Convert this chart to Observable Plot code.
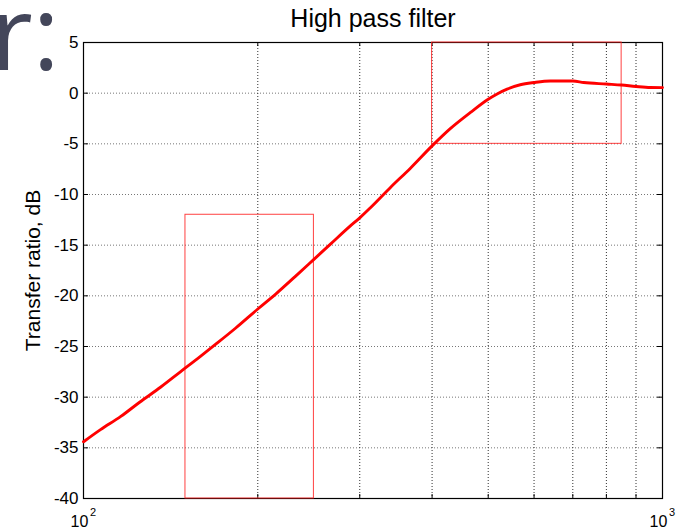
<!DOCTYPE html>
<html>
<head>
<meta charset="utf-8">
<script src="https://cdn.jsdelivr.net/npm/d3@7"></script>
<script src="https://cdn.jsdelivr.net/npm/@observablehq/plot@0.6"></script>
<style>
  html, body { margin: 0; padding: 0; background: #fff; overflow: hidden; }
  #chart { position: relative; width: 682px; height: 532px; }
</style>
</head>
<body>
<div id="chart"></div>
<script>
// Measured transfer ratio of the high pass filter (frequency in Hz, ratio in dB)
const freq = [100, 107, 116, 125, 136, 147, 159, 169, 183, 200, 215, 232, 250, 267, 289, 300, 313, 339, 367, 400, 430, 466, 500, 519, 539, 568, 600, 640, 700, 731, 800, 850, 900, 953, 1000];
const gain = [-34.4, -33.2, -31.9, -30.5, -29.0, -27.5, -26.0, -24.8, -23.2, -21.3, -19.8, -18.1, -16.4, -14.9, -13.1, -12.3, -11.3, -9.3, -7.4, -5.2, -3.5, -1.9, -0.6, -0.05, 0.4, 0.83, 1.05, 1.2, 1.2, 1.05, 0.9, 0.8, 0.66, 0.56, 0.55];

// Specification boxes: stopband limit and passband window
const stopF1 = [150], stopF2 = [250], stopLo = [-40], stopHi = [-12];
const passF1 = [400], passF2 = [850], passLo = [-5], passHi = [5];

// Axis ticks
const yTicks = [-40, -35, -30, -25, -20, -15, -10, -5, 0, 5];
const xMinor = [200, 300, 400, 500, 600, 700, 800, 900];
const xDecades = [100, 1000];
const xExponents = ["2", "3"];

const curve = freq.map((f, i) => ({f, g: gain[i]}));
const boxes = [
  {x1: stopF1[0], x2: stopF2[0], y1: stopLo[0], y2: stopHi[0]},
  {x1: passF1[0], x2: passF2[0], y1: passLo[0], y2: passHi[0]}
];
const decades = xDecades.map((f, i) => ({f, e: xExponents[i]}));

const W = 682, H = 532;
const mL = 83, mR = 20, mT = 42, mB = 34;
const fw = W - mL - mR, fh = H - mT - mB;

const chart = Plot.plot({
  width: W,
  height: H,
  marginLeft: mL,
  marginRight: mR,
  marginTop: mT,
  marginBottom: mB,
  style: {fontFamily: "'Liberation Sans', Arial, sans-serif", background: "#fff", color: "#000", overflow: "visible"},
  x: {type: "log", domain: [100, 1000], axis: null},
  y: {domain: [-40, 5], axis: null},
  marks: [
    // dotted grid
    Plot.ruleY(yTicks.slice(1, -1), {stroke: "#777", strokeDasharray: "1,2"}),
    Plot.ruleX(xMinor, {stroke: "#303030", strokeDasharray: "1,2"}),
    Plot.frame({stroke: "#000", strokeWidth: 1.2}),
    // inward ticks
    Plot.tickY(yTicks, {y: d => d, stroke: "#000", insetRight: fw - 5}),
    Plot.tickY(yTicks, {y: d => d, stroke: "#000", insetLeft: fw - 5}),
    Plot.tickX(xMinor, {x: d => d, stroke: "#000", insetTop: fh - 4}),
    Plot.tickX(xMinor, {x: d => d, stroke: "#000", insetBottom: fh - 4}),
    Plot.axisY(yTicks, {tickSize: 0, tickPadding: 5, fontSize: 17, tickFormat: d => String(d), label: null}),
    // decade labels 10^2, 10^3
    Plot.text(decades, {x: "f", text: () => "10", frameAnchor: "bottom", lineAnchor: "middle", dy: 23, dx: -4, fontSize: 16}),
    Plot.text(decades, {x: "f", text: "e", frameAnchor: "bottom", lineAnchor: "middle", dy: 14, dx: 9.5, fontSize: 11}),
    // specification boxes
    Plot.rect(boxes, {x1: "x1", x2: "x2", y1: "y1", y2: "y2", fill: "none", stroke: "#ff2020", strokeWidth: 1, strokeOpacity: 0.85}),
    // response curve
    Plot.line(curve, {x: "f", y: "g", stroke: "#ff0000", strokeWidth: 2.9, curve: "monotone-x"}),
    // title and axis label
    Plot.text(["High pass filter"], {frameAnchor: "top", lineAnchor: "middle", textAnchor: "middle", dy: -24, fontSize: 25}),
    Plot.text(["Transfer ratio, dB"], {frameAnchor: "left", lineAnchor: "middle", textAnchor: "middle", dx: -50, rotate: -90, fontSize: 21})
  ]
});

document.getElementById("chart").appendChild(chart);

// slide heading fragment in the corner
d3.select(chart).append("text")
  .attr("x", -9)
  .attr("y", 70)
  .attr("text-anchor", "start")
  .attr("font-family", "'Open Sans', sans-serif")
  .attr("font-weight", 400)
  .attr("font-size", 102)
  .attr("fill", "#43465a")
  .text("r:");
</script>
</body>
</html>
